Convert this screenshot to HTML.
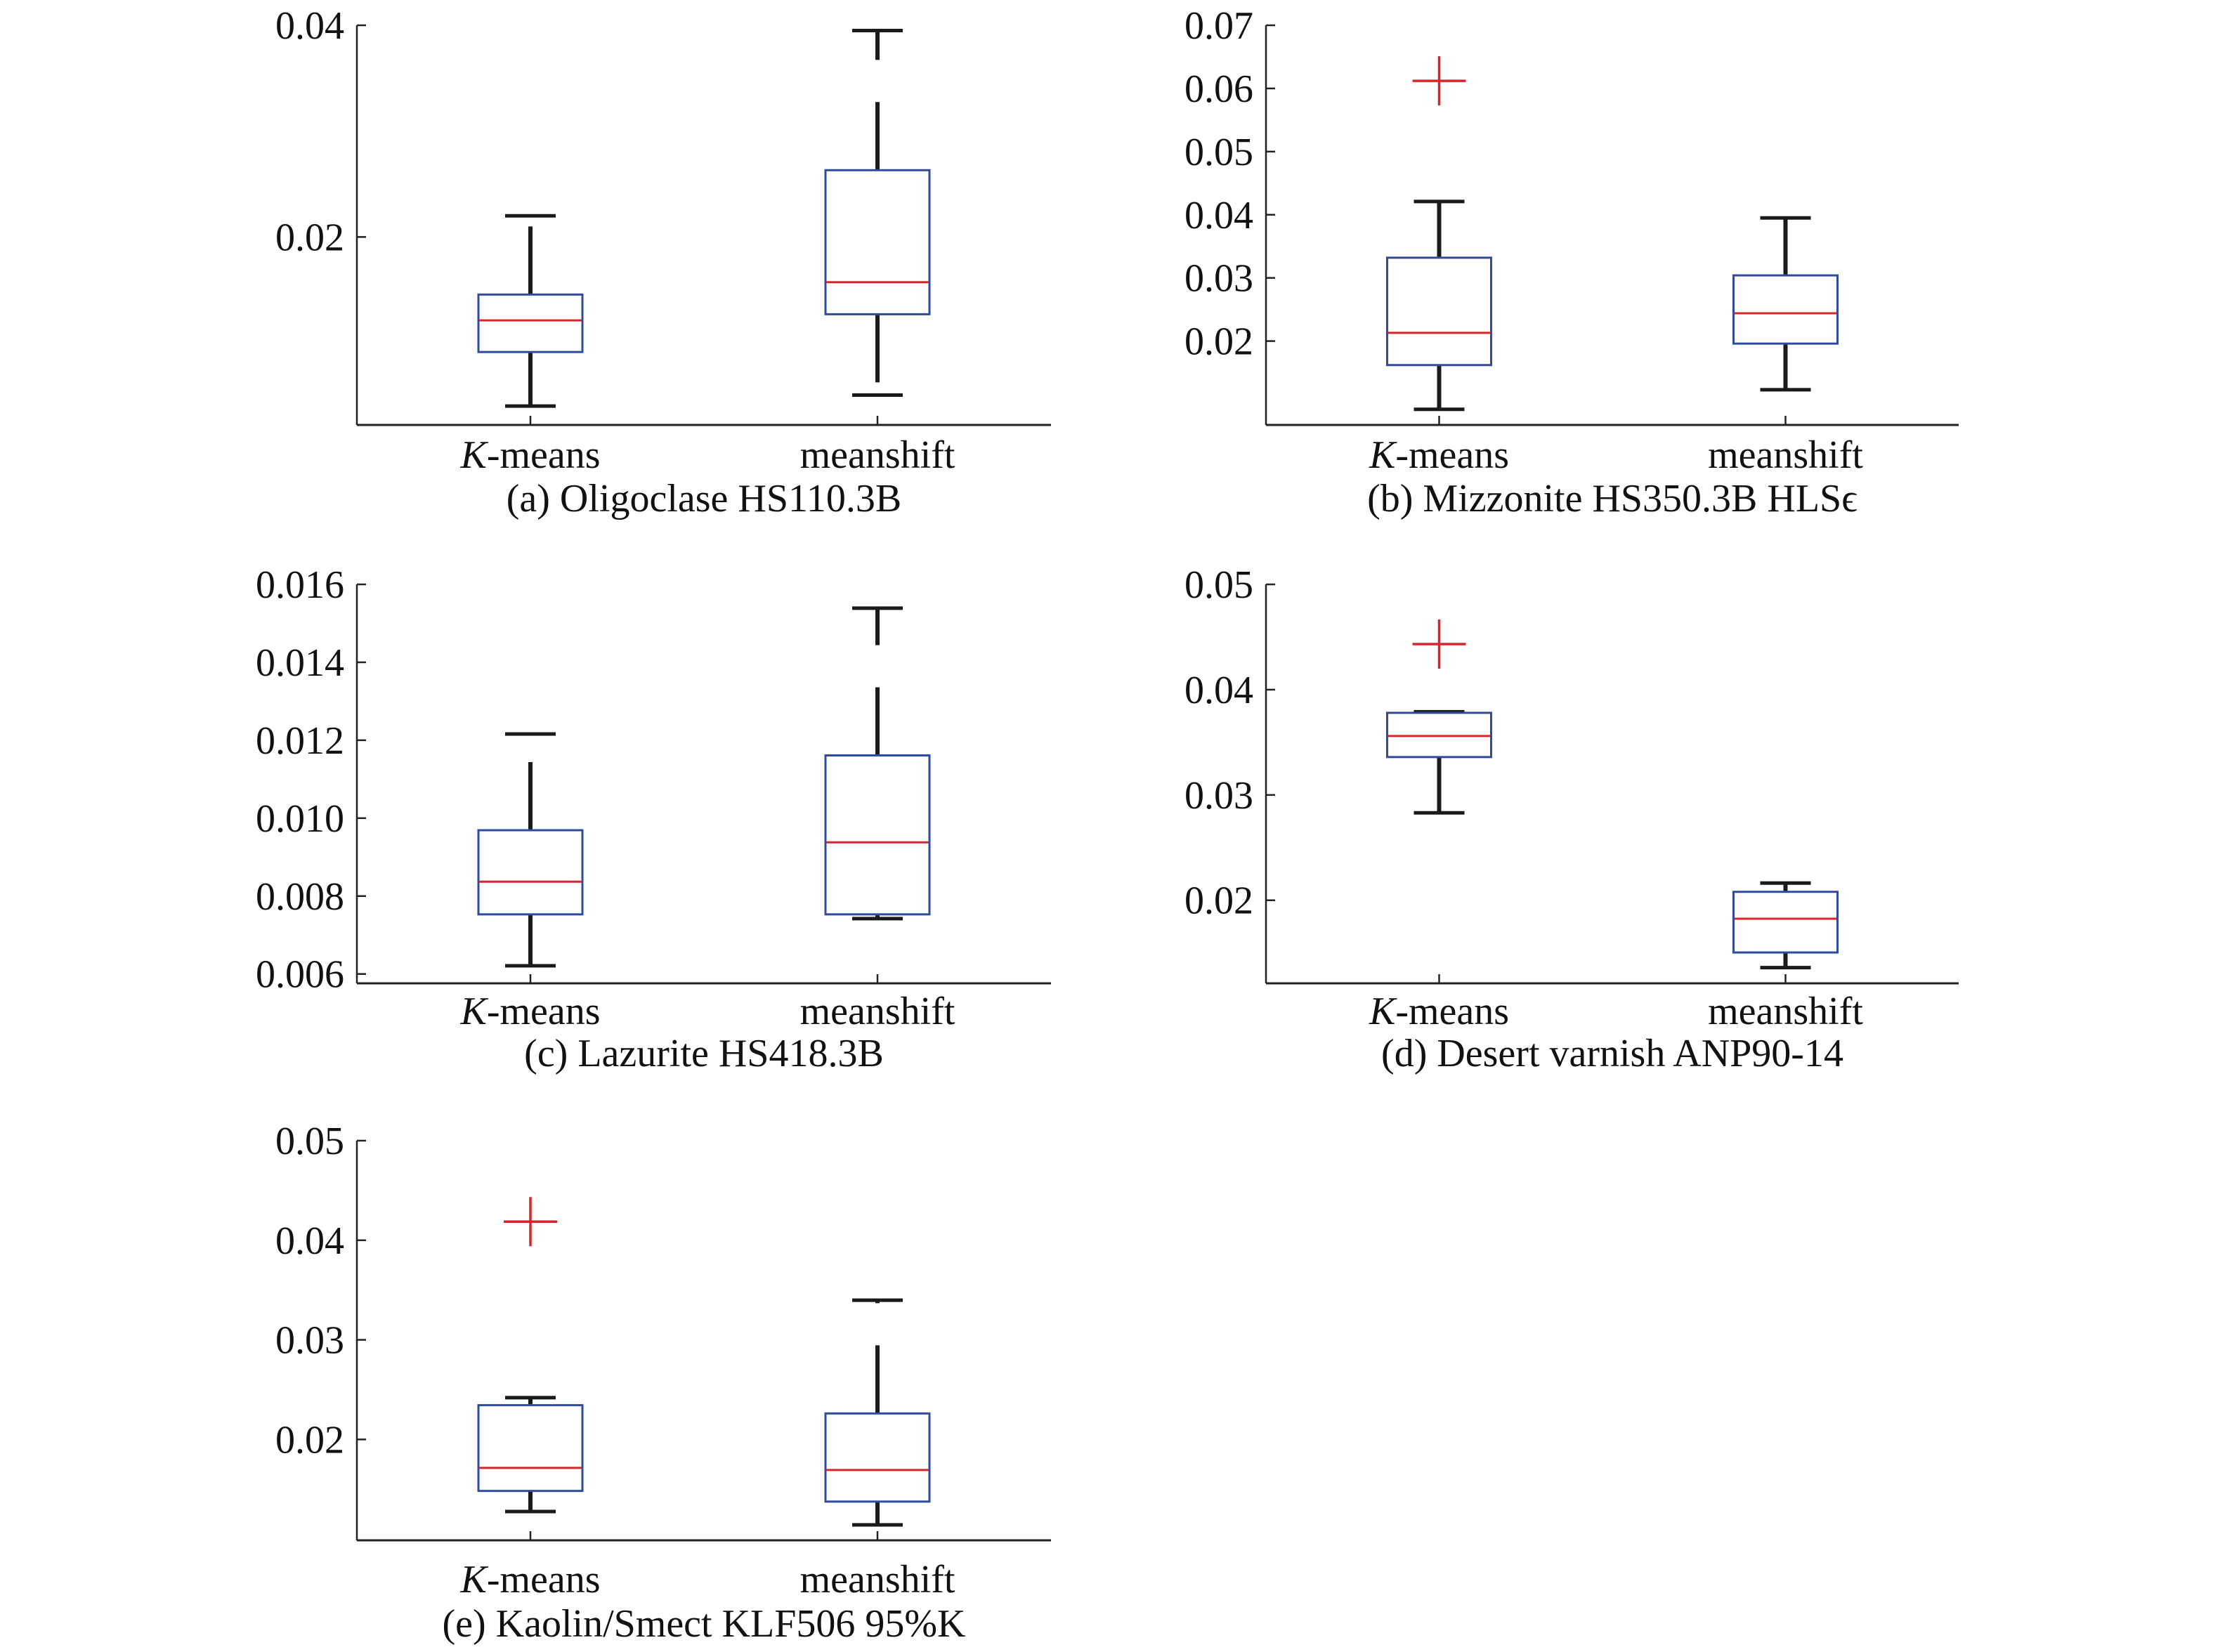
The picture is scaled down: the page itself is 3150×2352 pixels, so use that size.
<!DOCTYPE html>
<html><head><meta charset="utf-8"><style>
html,body{margin:0;padding:0;background:#fff;}
svg{display:block;}
text{font-family:"Liberation Serif",serif;fill:#111;}
</style></head><body>
<svg id="fig" width="3150" height="2352" viewBox="0 0 3150 2352" xmlns="http://www.w3.org/2000/svg"></svg>
<script>
// categories
const categories = ["K-means", "meanshift"];
// panel captions
const captions = ["(a) Oligoclase HS110.3B", "(b) Mizzonite HS350.3B HLS\u03F5", "(c) Lazurite HS418.3B", "(d) Desert varnish ANP90-14", "(e) Kaolin/Smect KLF506 95%K"];
// y-axis domains [min,max]
const domainA = [0.00224, 0.04];
const domainB = [0.00672, 0.07];
const domainC = [0.00576, 0.016];
const domainD = [0.01211, 0.05];
const domainE = [0.00987, 0.05];
// tick values / labels
const ticksA = [0.02, 0.04];
const ticksB = [0.02, 0.03, 0.04, 0.05, 0.06, 0.07];
const ticksC = [0.006, 0.008, 0.010, 0.012, 0.014, 0.016];
const ticksD = [0.02, 0.03, 0.04, 0.05];
const ticksE = [0.02, 0.03, 0.04, 0.05];
const tickLabelsA = ["0.02", "0.04"];
const tickLabelsB = ["0.02", "0.03", "0.04", "0.05", "0.06", "0.07"];
const tickLabelsC = ["0.006", "0.008", "0.010", "0.012", "0.014", "0.016"];
const tickLabelsD = ["0.02", "0.03", "0.04", "0.05"];
const tickLabelsE = ["0.02", "0.03", "0.04", "0.05"];
// box stats per category: [lowerWhisker, q1, median, q3, upperWhisker]
const statsA = [[0.00402, 0.00913, 0.01212, 0.01456, 0.0220], [0.00506, 0.0127, 0.01573, 0.02631, 0.0395]];
const statsB = [[0.0092, 0.0162, 0.0213, 0.0332, 0.0421], [0.0123, 0.0196, 0.0244, 0.0304, 0.0395]];
const statsC = [[0.00621, 0.00753, 0.00837, 0.00969, 0.01216], [0.00742, 0.00753, 0.00938, 0.01161, 0.01539]];
const statsD = [[0.0283, 0.0336, 0.0356, 0.0378, 0.0379], [0.0136, 0.01504, 0.01825, 0.0208, 0.02163]];
const statsE = [[0.01276, 0.01483, 0.01714, 0.02344, 0.0242], [0.01142, 0.01376, 0.01693, 0.02261, 0.03398]];
// outliers per category
const outliersA = [[], []];
const outliersB = [[0.0612], []];
const outliersC = [[], []];
const outliersD = [[0.04433], []];
const outliersE = [[0.04187], []];

const NS = "http://www.w3.org/2000/svg";
const svg = document.getElementById("fig");
function mk(tag, attrs, parent) {
  const e = document.createElementNS(NS, tag);
  for (const k in attrs) e.setAttribute(k, attrs[k]);
  (parent || svg).appendChild(e);
  return e;
}
const FS = 56;
const layouts = [
  {x0: 508, x1: 1496, yTop: 36, yBot: 605, xl: 666, cap: 728},
  {x0: 1802, x1: 2788, yTop: 36, yBot: 605, xl: 666, cap: 728},
  {x0: 508, x1: 1496, yTop: 832, yBot: 1400, xl: 1458, cap: 1518},
  {x0: 1802, x1: 2788, yTop: 832, yBot: 1400, xl: 1458, cap: 1518},
  {x0: 508, x1: 1496, yTop: 1624, yBot: 2193, xl: 2267, cap: 2330}
];
const panels = [
  {d: domainA, t: ticksA, tl: tickLabelsA, s: statsA, o: outliersA},
  {d: domainB, t: ticksB, tl: tickLabelsB, s: statsB, o: outliersB},
  {d: domainC, t: ticksC, tl: tickLabelsC, s: statsC, o: outliersC},
  {d: domainD, t: ticksD, tl: tickLabelsD, s: statsD, o: outliersD},
  {d: domainE, t: ticksE, tl: tickLabelsE, s: statsE, o: outliersE}
];
const letters = ["a","b","c","d","e"];
panels.forEach((p, pi) => {
  const L = layouts[pi];
  const g = mk("g", {});
  
  
  const y = v => L.yBot - (v - p.d[0]) / (p.d[1] - p.d[0]) * (L.yBot - L.yTop);
  const w = L.x1 - L.x0;
  const x = i => L.x0 + w * (0.25 + 0.5 * i);
  const ya = mk("line", {x1: L.x0, y1: y(p.d[1]), x2: L.x0, y2: L.yBot, stroke: "#222", "stroke-width": 2.5}, g);
  
  
  const xa = mk("line", {x1: L.x0, y1: L.yBot, x2: L.x1, y2: L.yBot, stroke: "#222", "stroke-width": 3}, g);
  
  
  p.t.forEach((tv, ti) => {
    const ty = y(tv);
    const tk = mk("line", {x1: L.x0, y1: ty, x2: L.x0 + 13, y2: ty, stroke: "#222", "stroke-width": 2.5}, g);
    
    
    const tx = mk("text", {x: L.x0 - 18, y: ty + 19, "text-anchor": "end", "font-size": FS}, g);
    tx.textContent = p.tl[ti];
    
    
  });
  categories.forEach((c, ci) => {
    const cx = x(ci);
    const st = p.s[ci];
    const xt = mk("line", {x1: cx, y1: L.yBot, x2: cx, y2: L.yBot - 13, stroke: "#222", "stroke-width": 2.5}, g);
    
    
    const lab = mk("text", {x: cx, y: L.xl, "text-anchor": "middle", "font-size": FS}, g);
    
    
    if (c === "K-means") {
      const k = mk("tspan", {"font-style": "italic"}, lab); k.textContent = "K";
      const r = mk("tspan", {}, lab); r.textContent = "-means";
    } else lab.textContent = c;
    const wu = mk("line", {x1: cx, y1: y(st[3]), x2: cx, y2: y(st[4]), stroke: "#1a1a1a", "stroke-width": 6, "stroke-dasharray": "97 60"}, g);
    
    
    const wl = mk("line", {x1: cx, y1: y(st[1]), x2: cx, y2: y(st[0]), stroke: "#1a1a1a", "stroke-width": 6, "stroke-dasharray": "97 60"}, g);
    
    
    [st[0], st[4]].forEach((v, vi) => {
      const cp = mk("line", {x1: cx - 36, y1: y(v), x2: cx + 36, y2: y(v), stroke: "#1a1a1a", "stroke-width": 5}, g);
      
      
    });
    const bx = mk("rect", {x: cx - 74, y: y(st[3]), width: 148, height: y(st[1]) - y(st[3]), fill: "#fff", stroke: "#2f4b9c", "stroke-width": 3}, g);
    
    
    const md = mk("line", {x1: cx - 73, y1: y(st[2]), x2: cx + 73, y2: y(st[2]), stroke: "#d7262b", "stroke-width": 3}, g);
    
    
    p.o[ci].forEach(ov => {
      const oy = y(ov);
      const o = mk("path", {d: `M${cx-38},${oy}H${cx+38}M${cx},${oy-35}V${oy+35}`, stroke: "#d7262b", "stroke-width": 3.5, fill: "none"}, g);
      
      
    });
  });
  const cap = mk("text", {x: (L.x0 + L.x1) / 2, y: L.cap, "text-anchor": "middle", "font-size": FS}, g);
  cap.textContent = captions[pi];
  
  
});
</script>
</body></html>
